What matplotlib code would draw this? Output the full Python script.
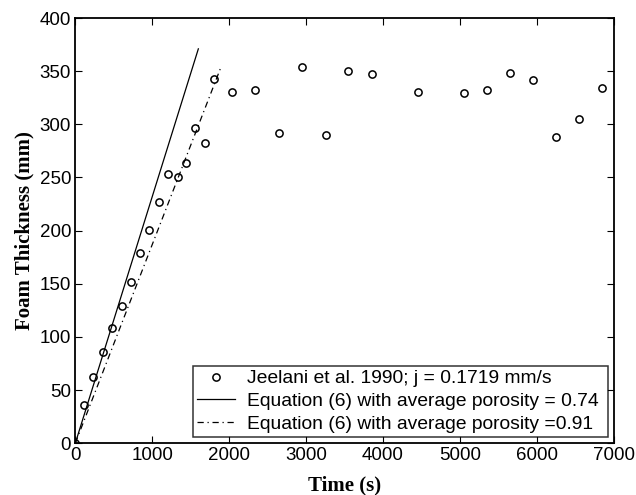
import matplotlib
matplotlib.use("Agg")
import matplotlib.pyplot as plt

# Data
time_s = [0, 117, 235, 356, 477, 605, 724, 845, 962, 1084, 1205, 1331, 1443, 1560,
          1690, 1808, 2042, 2341, 2653, 2948, 3260, 3550, 3858, 4452, 5055, 5354,
          5649, 5952, 6255, 6550, 6845]
thickness_mm = [0, 35.6, 62, 85.4, 108, 128.7, 151.5, 179.4, 200.4, 227.3, 253, 250.8,
                263.6, 296.5, 282.4, 343, 330.7, 332.6, 292, 353.5, 290, 350, 347,
                330, 329, 332, 348, 341.5, 288, 305, 334.5]

eq074_t = [0, 1600]
eq074_y = [0, 371]
eq091_t = [0, 1895]
eq091_y = [0, 354]

labels = ["Jeelani et al. 1990; j = 0.1719 mm/s",
          "Equation (6) with average porosity = 0.74",
          "Equation (6) with average porosity =0.91"]
xticks = [0, 1000, 2000, 3000, 4000, 5000, 6000, 7000]
yticks = [0, 50, 100, 150, 200, 250, 300, 350, 400]

plt.rcParams['font.family'] = ['Liberation Sans', 'DejaVu Sans']

fig = plt.figure(figsize=(6.36, 4.95), dpi=100)
ax = fig.add_axes([0.1184, 0.1046, 0.8464, 0.859])

ax.plot(time_s, thickness_mm, linestyle='none', marker='o', markersize=5.2,
        markerfacecolor='none', markeredgecolor='black', markeredgewidth=1.1,
        label=labels[0])
ax.plot(eq074_t, eq074_y, color='black', linewidth=0.9, label=labels[1])
ax.plot(eq091_t, eq091_y, color='black', linewidth=0.9, dashes=(5, 3, 1, 3),
        label=labels[2])

ax.set_xlim(0, 7000)
ax.set_ylim(0, 400)
ax.set_xticks(xticks)
ax.set_yticks(yticks)
ax.tick_params(direction='in', top=True, right=True, length=5, width=0.8,
               labelsize=13.5, pad=3)
for s in ax.spines.values():
    s.set_linewidth(1.3)

ax.set_xlabel("Time (s)", family='Liberation Serif', fontweight='bold', fontsize=15, labelpad=8)
ax.set_ylabel("Foam Thickness (mm)", family='Liberation Serif', fontweight='bold', fontsize=15, labelpad=4)

leg = ax.legend(loc='lower left', bbox_to_anchor=(0.218, 0.0153, 0.771, 0.1646),
                mode='expand', fontsize=13.9, frameon=True, fancybox=False,
                edgecolor='black', borderpad=0.2, labelspacing=0.27,
                handlelength=2.0, handletextpad=0.63, borderaxespad=0)
leg.get_frame().set_linewidth(1.1)

fig.savefig("out.png", dpi=100)
